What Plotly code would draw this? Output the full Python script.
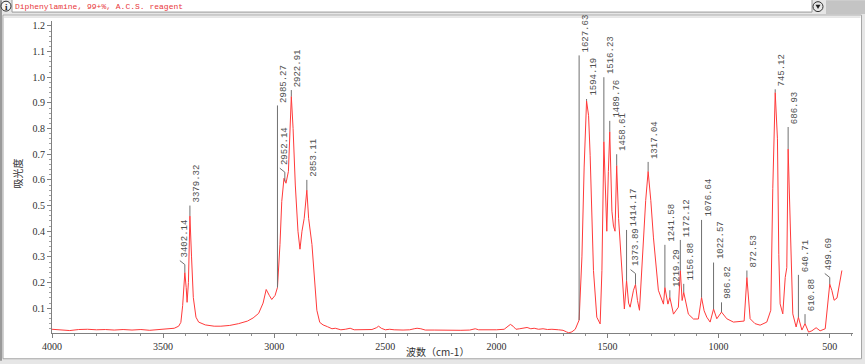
import numpy as np
import plotly.graph_objects as go

# ---------------- data ----------------
wavenumber = [
    4000, 3960, 3920, 3880, 3840, 3800, 3760, 3720, 3680, 3640, 3600, 3560, 3520, 3480,
    3450, 3430, 3420, 3412, 3402.14, 3396, 3392, 3386, 3379.32, 3372, 3364, 3352, 3340,
    3310, 3270, 3240, 3200, 3160, 3120, 3095, 3070, 3050, 3036, 3022, 3011, 2996,
    2985.27, 2974, 2966, 2956, 2952.14, 2947, 2936, 2922.91, 2915, 2905, 2893, 2884,
    2875, 2865, 2853.11, 2845, 2830, 2818, 2808, 2795, 2780, 2760, 2740, 2725, 2700,
    2680, 2658, 2640, 2600, 2560, 2540, 2530, 2518, 2500, 2480, 2460, 2420, 2390, 2370,
    2357, 2340, 2320, 2280, 2240, 2200, 2160, 2120, 2095, 2080, 2040, 2000, 1965, 1950,
    1937, 1925, 1912, 1895, 1875, 1862, 1845, 1830, 1810, 1790, 1770, 1750, 1720, 1700,
    1685, 1674, 1660, 1645, 1627.63, 1615, 1605, 1594.19, 1585, 1578, 1563, 1548, 1533,
    1525, 1516.23, 1508, 1503, 1496, 1489.76, 1480, 1473, 1466, 1458.61, 1450, 1443,
    1428, 1424, 1414.17, 1405, 1398, 1383, 1373.89, 1365, 1356, 1338, 1328, 1317.04,
    1305, 1293, 1271, 1248, 1241.58, 1228, 1219.29, 1203, 1181, 1172.12, 1164, 1156.88,
    1136, 1113, 1091, 1076.64, 1065, 1053, 1038, 1022.57, 1008, 986.82, 963, 933, 903,
    885, 872.53, 858, 836, 813, 783, 765, 756, 745.12, 735, 729, 723, 711, 700, 693,
    686.93, 675, 666, 651, 640.71, 625, 610.88, 595, 580, 561, 543, 520, 499.69, 490,
    480, 467, 445,
]
absorbance = [
    0.018, 0.016, 0.013, 0.017, 0.018, 0.016, 0.017, 0.015, 0.017, 0.015, 0.017, 0.014, 0.016, 0.018,
    0.022, 0.030, 0.045, 0.110, 0.239, 0.180, 0.123, 0.200, 0.459, 0.300, 0.142, 0.065, 0.046,
    0.035, 0.030, 0.030, 0.033, 0.040, 0.050, 0.062, 0.080, 0.120, 0.173, 0.150, 0.134, 0.150,
    0.181, 0.348, 0.516, 0.606, 0.594, 0.587, 0.633, 0.925, 0.800, 0.580, 0.400, 0.330,
    0.400, 0.450, 0.560, 0.450, 0.348, 0.200, 0.092, 0.045, 0.035, 0.028, 0.020, 0.022, 0.016,
    0.018, 0.022, 0.016, 0.016, 0.017, 0.024, 0.030, 0.022, 0.016, 0.018, 0.016, 0.015, 0.016, 0.020,
    0.022, 0.020, 0.015, 0.015, 0.014, 0.015, 0.014, 0.015, 0.020, 0.016, 0.015, 0.016, 0.018, 0.030,
    0.037, 0.030, 0.018, 0.020, 0.024, 0.025, 0.020, 0.022, 0.018, 0.020, 0.017, 0.018, 0.016, 0.014,
    0.008, 0.004, 0.008, 0.018, 0.054, 0.300, 0.650, 0.908, 0.850, 0.696, 0.247, 0.065, 0.039,
    0.247, 0.749, 0.550, 0.400, 0.633, 0.787, 0.478, 0.420, 0.400, 0.656, 0.450, 0.347,
    0.116, 0.097, 0.208, 0.120, 0.104, 0.170, 0.193, 0.130, 0.092, 0.374, 0.520, 0.633,
    0.520, 0.374, 0.170, 0.116, 0.181, 0.116, 0.142, 0.077, 0.104, 0.247, 0.130, 0.162,
    0.077, 0.058, 0.058, 0.142, 0.090, 0.065, 0.046, 0.097, 0.059, 0.085, 0.059, 0.046, 0.048,
    0.050, 0.220, 0.059, 0.040, 0.034, 0.046, 0.092, 0.567, 0.940, 0.760, 0.310, 0.117, 0.078, 0.220, 0.258,
    0.720, 0.374, 0.078, 0.027, 0.065, 0.015, 0.040, 0.007, 0.012, 0.024, 0.012, 0.020, 0.194, 0.169,
    0.131, 0.140, 0.247,
]

peak_labels = ["3402.14", "3379.32", "2985.27", "2952.14", "2922.91", "2853.11",
               "1627.63", "1594.19", "1516.23", "1489.76", "1458.61", "1414.17",
               "1373.89", "1317.04", "1241.58", "1219.29", "1172.12", "1156.88",
               "1076.64", "1022.57", "986.82", "872.53", "745.12", "686.93",
               "640.71", "610.88", "499.69"]
peak_top = [0.27, 0.50, 0.89, 0.63, 0.95, 0.60,
            1.085, 0.915, 1.00, 0.83, 0.70, 0.405,
            0.235, 0.67, 0.347, 0.17, 0.366, 0.195,
            0.444, 0.278, 0.123, 0.247, 0.953, 0.806,
            0.23, 0.077, 0.22]
peak_offset = ["3402.14", "2952.14", "1373.89", "499.69"]   # labels drawn with a slanted leader

x_ticks = [4000, 3500, 3000, 2500, 2000, 1500, 1000, 500]
y_ticks = [0.1, 0.2, 0.3, 0.4, 0.5, 0.6, 0.7, 0.8, 0.9, 1.0, 1.1, 1.2]

title_text = "Diphenylamine, 99+%, A.C.S. reagent"
x_title = "波数（cm-1）"
y_title = "吸光度"

# ---------------- layout geometry ----------------
W, H = 865, 364
L, R, T, B = 52, 853, 21, 336
X_RANGE = [4000, 395]
Y_RANGE = [0.0035, 1.219]


def xp(px):
    return (px - L) / (R - L)


def yp(py):
    return (B - py) / (B - T)


px_per_wn = (R - L) / (X_RANGE[0] - X_RANGE[1])
px_per_abs = (B - T) / (Y_RANGE[1] - Y_RANGE[0])

fig = go.Figure()
fig.add_trace(go.Scatter(x=wavenumber, y=absorbance, mode="lines",
                         line=dict(color="#ff3a3a", width=1), hoverinfo="skip",
                         showlegend=False))

shapes = []
annotations = []

# window chrome
shapes.append(dict(type="rect", xref="paper", yref="paper",
                   x0=xp(3), x1=xp(861.5), y0=yp(362), y1=yp(15),
                   fillcolor="white", line=dict(color="#a6a6a6", width=1), layer="below"))
shapes.append(dict(type="line", xref="paper", yref="paper",
                   x0=xp(4), x1=xp(860.5), y0=yp(17), y1=yp(17),
                   line=dict(color="#d0d0d0", width=1), layer="below"))
shapes.append(dict(type="rect", xref="paper", yref="paper",
                   x0=xp(0), x1=xp(2), y0=yp(364), y1=yp(0),
                   fillcolor="#9a9a9a", line=dict(width=0), layer="below"))
shapes.append(dict(type="rect", xref="paper", yref="paper",
                   x0=xp(826), x1=xp(865), y0=yp(14), y1=yp(0),
                   fillcolor="#c4c4c4", line=dict(width=0), layer="below"))
shapes.append(dict(type="rect", xref="paper", yref="paper",
                   x0=xp(12), x1=xp(812), y0=yp(12), y1=yp(-1),
                   fillcolor="white", line=dict(color="#9a9a9a", width=1), layer="below"))
shapes.append(dict(type="circle", xref="paper", yref="paper",
                   x0=xp(1), x1=xp(11), y0=yp(11), y1=yp(1),
                   fillcolor="#f4f4f4", line=dict(color="#303030", width=1), layer="above"))
shapes.append(dict(type="circle", xref="paper", yref="paper",
                   x0=xp(813), x1=xp(823), y0=yp(11.5), y1=yp(1.5),
                   fillcolor="#e8e8e8", line=dict(color="#303030", width=1), layer="above"))
shapes.append(dict(type="path", xref="paper", yref="paper",
                   path=f"M {xp(815.5)} {yp(4.5)} L {xp(820.5)} {yp(4.5)} L {xp(818)} {yp(9)} Z",
                   fillcolor="#202020", line=dict(width=0), layer="above"))
annotations.append(dict(xref="paper", yref="paper", x=xp(6), y=yp(6.5), text="<b>i</b>",
                        showarrow=False, font=dict(family="Liberation Serif", size=9, color="#202020"),
                        xanchor="center", yanchor="middle"))
annotations.append(dict(xref="paper", yref="paper", x=xp(13), y=yp(6.5), text=title_text,
                        showarrow=False, font=dict(family="Liberation Mono", size=8, color="#e8383c"),
                        xanchor="left", yanchor="middle"))

# axis titles
annotations.append(dict(xref="paper", yref="paper", x=xp(437), y=yp(355), text=x_title,
                        showarrow=False, font=dict(family="Noto Sans CJK SC", size=10, color="#303030"),
                        xanchor="center", yanchor="middle"))
annotations.append(dict(xref="paper", yref="paper", x=xp(18), y=yp(175), text=y_title,
                        textangle=-90, showarrow=False,
                        font=dict(family="Noto Sans CJK SC", size=10, color="#303030"),
                        xanchor="center", yanchor="middle"))

# peak markers
wn_sorted = np.array(wavenumber)[::-1]
ab_sorted = np.array(absorbance)[::-1]
for lab, top in zip(peak_labels, peak_top):
    w = float(lab)
    base = float(np.interp(w, wn_sorted, ab_sorted))
    shapes.append(dict(type="line", xref="x", yref="y", x0=w, x1=w, y0=base, y1=top,
                       line=dict(color="#707070", width=1), layer="above"))
    if lab in peak_offset:
        dx = 5 / px_per_wn
        dy = 4 / px_per_abs
        shapes.append(dict(type="line", xref="x", yref="y", x0=w, x1=w + dx,
                           y0=top, y1=top + dy,
                           line=dict(color="#707070", width=1), layer="above"))
        ax_x, ay_y, shift = w + dx, top + dy, -2
    else:
        ax_x, ay_y, shift = w, top, 0
    annotations.append(dict(xref="x", yref="y", x=ax_x, y=ay_y, text=lab, textangle=-90,
                            showarrow=False, xanchor="left", yanchor="bottom",
                            xshift=shift, yshift=1,
                            font=dict(family="Liberation Mono", size=9, color="#505050")))

fig.update_layout(
    width=W, height=H,
    margin=dict(l=L, r=W - R, t=T, b=H - B, pad=0),
    paper_bgcolor="#e6e6e6",
    plot_bgcolor="rgba(0,0,0,0)",
    shapes=shapes,
    annotations=annotations,
    showlegend=False,
    xaxis=dict(range=X_RANGE, tickvals=x_ticks, ticktext=[str(v) for v in x_ticks],
               showgrid=False, zeroline=False, showline=True, linecolor="#808080", linewidth=1,
               ticks="outside", ticklen=4, tickcolor="#808080",
               minor=dict(dtick=100, ticks="outside", ticklen=2, tickcolor="#909090"),
               tickfont=dict(family="Liberation Serif", size=10, color="#303030")),
    yaxis=dict(range=Y_RANGE, tickvals=y_ticks, ticktext=[f"{v:.1f}" for v in y_ticks],
               showgrid=False, zeroline=False, showline=True, linecolor="#808080", linewidth=1,
               ticks="outside", ticklen=4, tickcolor="#808080",
               minor=dict(dtick=0.02, tick0=0, ticks="outside", ticklen=2, tickcolor="#a0a0a0"),
               tickfont=dict(family="Liberation Serif", size=10, color="#303030")),
)

fig.write_html("out.html")
